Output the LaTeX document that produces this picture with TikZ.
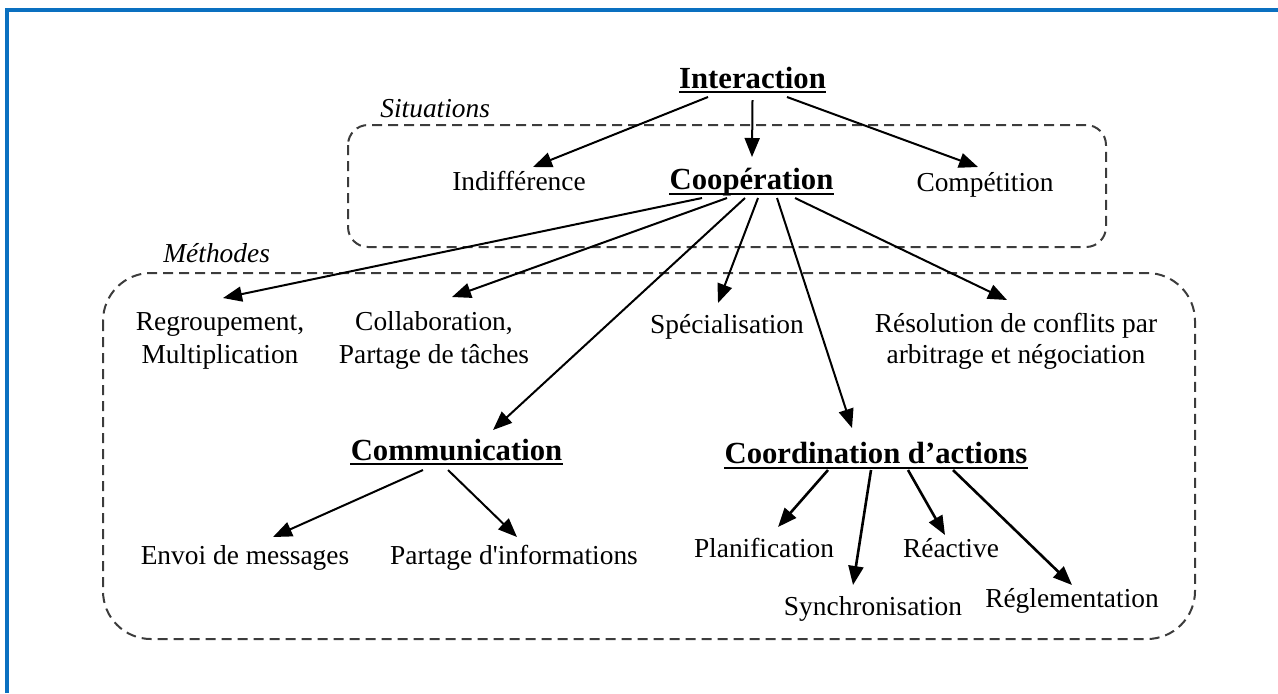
\documentclass[tikz,border=0pt]{standalone}
\usepackage{fontspec}
\setmainfont{Liberation Serif}
\usetikzlibrary{arrows.meta,calc}
\definecolor{frameblue}{RGB}{10,112,192}
\definecolor{dashgray}{RGB}{60,60,60}
\begin{document}
\begin{tikzpicture}[x=0.5pt,y=-0.5pt,
  txt/.style={font=\fontsize{13.7}{16.5}\selectfont, inner sep=0pt, anchor=base, align=center},
  head/.style={font=\fontsize{15.35}{18}\selectfont\bfseries, inner sep=0pt, anchor=base},
  lbl/.style={font=\fontsize{13.7}{16.5}\selectfont\itshape, inner sep=0pt, anchor=base west},
  arr/.style={-{Triangle[length=9.5pt,width=7.5pt]}, line width=1pt},
  arrb/.style={arr, line width=1.3pt},
  grp/.style={draw=dashgray, line width=1pt, dash pattern=on 5pt off 3pt},
  uline/.style={line width=1.4pt},
]
\useasboundingbox (0,0) rectangle (1278,693);

% page frame
\draw[frameblue, line width=2pt] (7,693) -- (7,10) -- (1278,10);

% group frames
\draw[grp, rounded corners=10pt] (348,125) rectangle (1106,247);
\draw[grp, rounded corners=24pt] (103,273) rectangle (1195,639);

% group labels
\node[lbl] (sit) at (380,117) {Situations};
\node[lbl] (meth) at (163,262) {Méthodes};

% headings
\node[head] (inter) at (752.5,88) {Interaction};
\node[head] (coop) at (751.5,189) {Coopération};
\node[head] (comm) at (456.5,460) {Communication};
\node[head] (coord) at (876,463) {Coordination d’actions};

\foreach \n/\d in {inter/2, coop/2.5, comm/2, coord/2.5}
  \draw[uline] ([yshift=-\d pt]\n.base west) -- ([yshift=-\d pt]\n.base east);

% situations
\node[txt] (indif) at (519,190) {Indifférence};
\node[txt] (compet) at (985,191) {Compétition};

% methods (two-line nodes sit on the baseline of their last line)
\node[txt] (regr) at (220,363) {Regroupement,\\Multiplication};
\node[txt] (collab) at (434,363) {Collaboration,\\Partage de tâches};
\node[txt] (spec) at (727,333) {Spécialisation};
\node[txt] (resol) at (1016,363) {Résolution de conflits par\\[-1pt]arbitrage et négociation};

% communication
\node[txt] (envoi) at (245,564) {Envoi de messages};
\node[txt] (partage) at (514,564) {Partage d\textquotesingle informations};

% coordination
\node[txt] (plan) at (764,557) {Planification};
\node[txt] (react) at (951,557) {Réactive};
\node[txt] (sync) at (873,615) {Synchronisation};
\node[txt] (regl) at (1072,607) {Réglementation};

% connectors
\draw[arr] ($(inter.base)+(-44.5,9)$) -- ($(indif.base)+(14,-23)$);
\draw[arr] ($(inter.base)+(0,12)$) -- ($(coop.base)+(0.5,-32)$);
\draw[arr] ($(inter.base)+(34.5,9)$) -- ($(compet.base)+(-7,-24)$);

\draw[arr] ($(coop.base)+(-49.5,9)$) -- ($(regr.base)+(3,-65)$);
\draw[arr] ($(coop.base)+(-24.5,9)$) -- ($(collab.base)+(18,-66)$);
\draw[arr] ($(coop.base)+(-6.5,9)$) -- ($(comm.base)+(36.5,-30)$);
\draw[arr] ($(coop.base)+(6.5,9)$) -- ($(spec.base)+(-9,-30)$);
\draw[arr] ($(coop.base)+(25.5,9)$) -- ($(coord.base)+(-24,-35)$);
\draw[arr] ($(coop.base)+(43.5,9)$) -- ($(resol.base)+(-9,-63)$);

\draw[arr] ($(comm.base)+(-33.5,10)$) -- ($(envoi.base)+(28,-27)$);
\draw[arr] ($(comm.base)+(-8.5,10)$) -- ($(partage.base)+(3,-27)$);

\draw[arrb] ($(coord.base)+(-48,7)$) -- ($(plan.base)+(14,-30)$);
\draw[arrb] ($(coord.base)+(-5,7)$) -- ($(sync.base)+(-20,-30)$);
\draw[arrb] ($(coord.base)+(32,7)$) -- ($(react.base)+(-6,-22)$);
\draw[arrb] ($(coord.base)+(77,7)$) -- ($(regl.base)+(0,-22)$);
\end{tikzpicture}
\end{document}
